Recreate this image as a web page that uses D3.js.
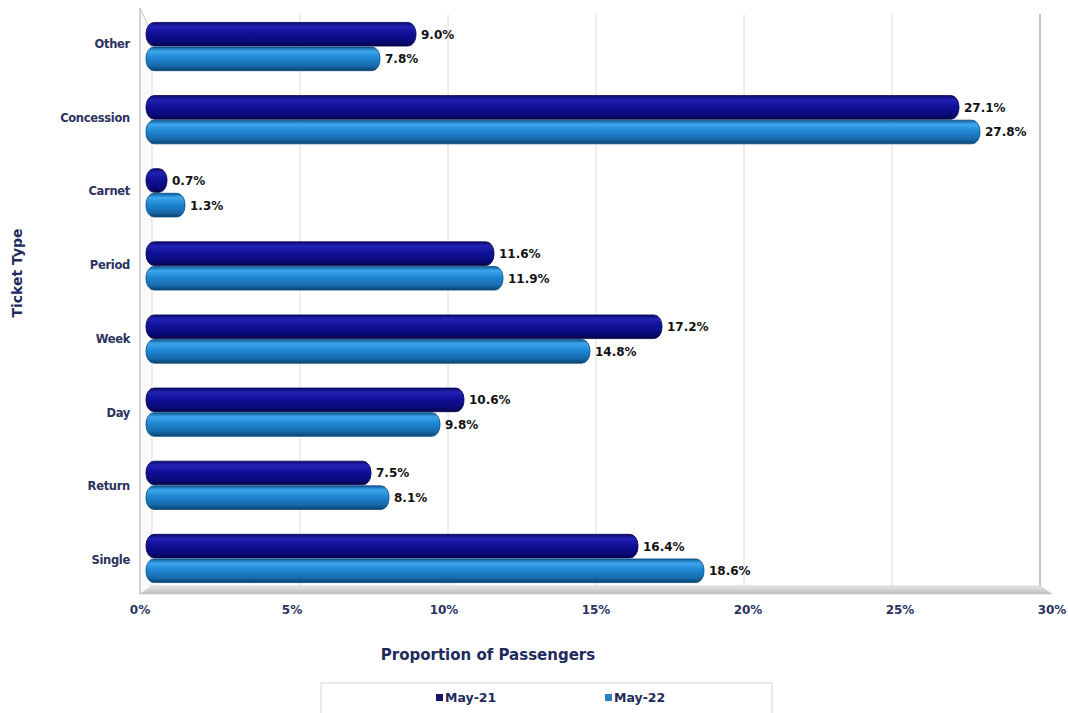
<!DOCTYPE html>
<html>
<head>
<meta charset="utf-8">
<script src="https://cdn.jsdelivr.net/npm/d3@7"></script>
<style>
  html, body { margin: 0; padding: 0; background: #ffffff; }
  svg { display: block; font-family: "DejaVu Sans", Verdana, sans-serif; }
</style>
</head>
<body>
<svg id="chart" width="1068" height="713"></svg>
<script>
// Ticket type share of passengers, May-21 vs May-22
const categories = ["Other", "Concession", "Carnet", "Period", "Week", "Day", "Return", "Single"];
const may21 = [9.0, 27.1, 0.7, 11.6, 17.2, 10.6, 7.5, 16.4];
const may22 = [7.8, 27.8, 1.3, 11.9, 14.8, 9.8, 8.1, 18.6];
const seriesNames = ["May-21", "May-22"];
const tickValues = [0, 5, 10, 15, 20, 25, 30];
const tickLabels = ["0%", "5%", "10%", "15%", "20%", "25%", "30%"];

const svg = d3.select("#chart");
const defs = svg.append("defs");

// Cylinder-style shading for each series
const gradSpecs = [
  { id: "g21", stops: [["0%", "#0a0a70"], ["18%", "#2222b2"], ["45%", "#10109a"], ["80%", "#0a0a7a"], ["100%", "#05054a"]] },
  { id: "g22", stops: [["0%", "#0e5e9e"], ["18%", "#3ea6ec"], ["45%", "#1f88d4"], ["80%", "#166aac"], ["100%", "#0a446e"]] }
];
gradSpecs.forEach(g => {
  const lg = defs.append("linearGradient").attr("id", g.id)
    .attr("x1", 0).attr("y1", 0).attr("x2", 0).attr("y2", 1);
  g.stops.forEach(s => lg.append("stop").attr("offset", s[0]).attr("stop-color", s[1]));
});
const floorGrad = defs.append("linearGradient").attr("id", "floor")
  .attr("x1", 0).attr("y1", 0).attr("x2", 0).attr("y2", 1);
floorGrad.append("stop").attr("offset", "0%").attr("stop-color", "#e6e6e6");
floorGrad.append("stop").attr("offset", "100%").attr("stop-color", "#bdbdbd");

// Scales: bars sit mid-depth, grid on back wall, labels on front edge
const x = d3.scaleLinear().domain([0, 30]).range([146, 1046]);
const xBack = d3.scaleLinear().domain([0, 30]).range([152, 1040]);
const xFront = d3.scaleLinear().domain([0, 30]).range([140, 1052]);
const y = d3.scaleBand().domain(categories).range([10, 595]).paddingInner(0.34).paddingOuter(0.17);
const yLabel = d3.scaleBand().domain(categories).range([7, 597]);
const sub = d3.scaleBand().domain(seriesNames).range([0, y.bandwidth()]).paddingInner(0.04);

const wallTop = 14, wallBottom = 588, depthY = 6;

// Back-wall gridlines
svg.append("g").selectAll("line").data(tickValues.slice(1, -1)).join("line")
  .attr("x1", d => xBack(d)).attr("x2", d => xBack(d))
  .attr("y1", wallTop).attr("y2", wallBottom)
  .attr("stroke", "#dedede").attr("stroke-width", 1);

// Back-wall right edge
svg.append("line").attr("x1", xBack(30)).attr("x2", xBack(30))
  .attr("y1", wallTop).attr("y2", wallBottom)
  .attr("stroke", "#c8c8c8").attr("stroke-width", 2);

// Left side wall
svg.append("path")
  .attr("d", `M${xFront(0)},${wallTop - depthY} L${xBack(0)},${wallTop + 20} L${xBack(0)},${wallBottom} L${xFront(0)},${wallBottom + depthY} Z`)
  .attr("fill", "#fafafa").attr("stroke", "none");
svg.append("line").attr("x1", xFront(0)).attr("x2", xFront(0))
  .attr("y1", wallTop - depthY).attr("y2", wallBottom + depthY)
  .attr("stroke", "#c4c4c4").attr("stroke-width", 1.5);
svg.append("line").attr("x1", xFront(0)).attr("x2", xBack(0))
  .attr("y1", wallTop - depthY).attr("y2", wallTop + 20)
  .attr("stroke", "#c4c4c4").attr("stroke-width", 1);
svg.append("line").attr("x1", xBack(0)).attr("x2", xBack(0))
  .attr("y1", wallTop + 20).attr("y2", wallBottom)
  .attr("stroke", "#dcdcdc").attr("stroke-width", 1);

// Floor
svg.append("path")
  .attr("d", `M${xBack(0)},${wallBottom - 2} L${xBack(30)},${wallBottom - 2} L${xFront(30)},${wallBottom + depthY} L${xFront(0)},${wallBottom + depthY} Z`)
  .attr("fill", "url(#floor)").attr("stroke", "#d0d0d0").attr("stroke-width", 0.8);

// Bars
const rows = categories.map((c, i) => ({ cat: c, values: [may21[i], may22[i]] }));
const barH = sub.bandwidth();
const groups = svg.append("g").selectAll("g").data(rows).join("g")
  .attr("transform", d => `translate(0,${y(d.cat)})`);

groups.selectAll("rect").data(d => d.values.map((v, j) => ({ v, s: seriesNames[j], j })))
  .join("rect")
  .attr("x", x(0))
  .attr("y", d => sub(d.s))
  .attr("width", d => x(d.v) - x(0))
  .attr("height", barH)
  .attr("rx", 8).attr("ry", 11)
  .attr("fill", d => d.j === 0 ? "url(#g21)" : "url(#g22)")
  .attr("stroke", d => d.j === 0 ? "#05054e" : "#0b4a7c")
  .attr("stroke-width", 0.8);

// Value labels
groups.selectAll("text").data(d => d.values.map((v, j) => ({ v, s: seriesNames[j] })))
  .join("text")
  .attr("x", d => x(d.v) + 5)
  .attr("y", d => sub(d.s) + barH / 2 + 4.5)
  .attr("font-size", 12).attr("font-weight", "bold").attr("fill", "#111111")
  .text(d => d.v.toFixed(1) + "%");

// Category labels
svg.append("g").selectAll("text").data(categories).join("text")
  .attr("x", 130)
  .attr("y", d => yLabel(d) + yLabel.bandwidth() / 2 + 4)
  .attr("text-anchor", "end")
  .attr("font-size", 11.5).attr("font-weight", "bold").attr("fill", "#2b335e")
  .attr("letter-spacing", -0.3)
  .text(d => d);

// X tick labels
svg.append("g").selectAll("text").data(tickValues).join("text")
  .attr("x", d => xFront(d))
  .attr("y", 614)
  .attr("text-anchor", "middle")
  .attr("font-size", 12).attr("font-weight", "bold").attr("fill", "#2b335e")
  .text((d, i) => tickLabels[i]);

// Axis titles
svg.append("text").attr("x", 488).attr("y", 660)
  .attr("text-anchor", "middle").attr("font-size", 15).attr("font-weight", "bold")
  .attr("fill", "#1f2a5c").text("Proportion of Passengers");
svg.append("text").attr("transform", "translate(22,273) rotate(-90)")
  .attr("text-anchor", "middle").attr("font-size", 14).attr("font-weight", "bold")
  .attr("fill", "#1f2a5c").text("Ticket Type");

// Legend
svg.append("rect").attr("x", 321).attr("y", 683).attr("width", 451).attr("height", 36)
  .attr("fill", "#ffffff").attr("stroke", "#d4d4d4").attr("stroke-width", 1);
const legendColors = ["#15156e", "#2a80c0"];
const legendX = [436, 605];
const legend = svg.append("g").selectAll("g").data(seriesNames).join("g")
  .attr("transform", (d, i) => `translate(${legendX[i]},698)`);
legend.append("rect").attr("x", 0).attr("y", -4).attr("width", 7).attr("height", 7)
  .attr("fill", (d, i) => legendColors[i]);
legend.append("text").attr("x", 9).attr("y", 3.5)
  .attr("font-size", 12.5).attr("font-weight", "bold").attr("fill", "#1f2a5c")
  .text(d => d);
</script>
</body>
</html>
